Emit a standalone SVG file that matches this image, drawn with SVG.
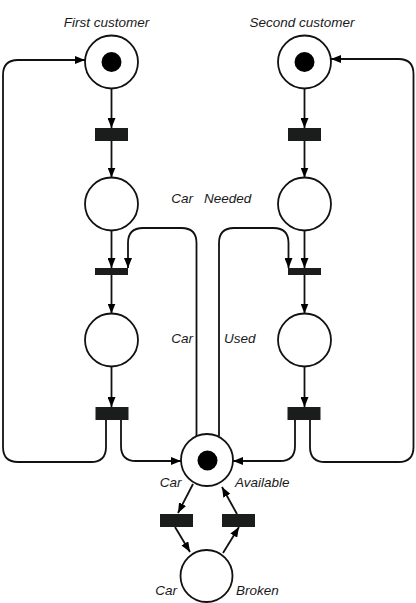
<svg xmlns="http://www.w3.org/2000/svg" width="416" height="603" viewBox="0 0 416 603">
<style>
.place{fill:#fff;stroke:#111;stroke-width:1.8}
.token{fill:#000}
.trans{fill:#1b1d1c;stroke:none}
.arc{fill:none;stroke:#111;stroke-width:1.8;marker-end:url(#ah)}
.lbl{font-family:"Liberation Sans",Arial,sans-serif;font-style:italic;font-size:13.5px;fill:#1a1a1a}
</style>
<defs>
<marker id="ah" markerUnits="userSpaceOnUse" markerWidth="10" markerHeight="8" refX="10" refY="4" orient="auto">
<path d="M0,0 L10,4 L0,8 z" fill="#000"/>
</marker>
</defs>
<rect width="416" height="603" fill="#fff"/>
<g id="connectors">
<path class="arc" d="M111.5,88.5 L111.5,128"/>
<path class="arc" d="M111.5,141 L111.5,177.5"/>
<path class="arc" d="M111.5,230.5 L111.5,268"/>
<path class="arc" d="M111.5,275 L111.5,313.5"/>
<path class="arc" d="M111.5,366.5 L111.5,407"/>
<path class="arc" d="M304.5,88.5 L304.5,128"/>
<path class="arc" d="M304.5,141 L304.5,177.5"/>
<path class="arc" d="M304.5,230.5 L304.5,268"/>
<path class="arc" d="M304.5,275 L304.5,313.5"/>
<path class="arc" d="M304.5,366.5 L304.5,407"/>
<path class="arc" d="M196.5,436 L196.5,243 Q196.5,228 181.5,228 L143,228 Q128,228 128,243 L128,268"/>
<path class="arc" d="M219,436 L219,243 Q219,228 234,228 L273.5,228 Q288.5,228 288.5,243 L288.5,268"/>
<path class="arc" d="M106,420 L106,447 Q106,462 91,462 L18,462 Q3,462 3,447 L3,75 Q3,60 18,60 L85,60"/>
<path class="arc" d="M121,420 L121,446 Q121,461 136,461 L181,461"/>
<path class="arc" d="M295,420 L295,446 Q295,461 280,461 L233,461"/>
<path class="arc" d="M310,420 L310,447 Q310,462 325,462 L398.5,462 Q413.5,462 413.5,447 L413.5,74 Q413.5,59 398.5,59 L331,59"/>
<path class="arc" d="M193,484 L178,513"/>
<path class="arc" d="M175,527 L190,552"/>
<path class="arc" d="M223,553 L239,527"/>
<path class="arc" d="M237,514 L222,487"/>
</g>
<g id="first-customer">
<circle class="place" cx="111.5" cy="62" r="26.5"/>
<circle class="token" cx="111.5" cy="62" r="10"/>
<text class="lbl" x="106.5" y="27" text-anchor="middle">First customer</text>
</g>
<g id="t1-left"><rect class="trans" x="95" y="128" width="33" height="13"/></g>
<g id="p2-left"><circle class="place" cx="111.5" cy="204" r="26.5"/></g>
<g id="t2-left"><rect class="trans" x="95" y="268" width="33" height="7"/></g>
<g id="p3-left"><circle class="place" cx="111.5" cy="340" r="26.5"/></g>
<g id="t3-left"><rect class="trans" x="95.5" y="407" width="33" height="13"/></g>
<g id="second-customer">
<circle class="place" cx="304.5" cy="62" r="26.5"/>
<circle class="token" cx="304.5" cy="62" r="10"/>
<text class="lbl" x="302" y="27" text-anchor="middle">Second customer</text>
</g>
<g id="t1-right"><rect class="trans" x="288" y="128" width="33" height="13"/></g>
<g id="p2-right"><circle class="place" cx="304.5" cy="204" r="26.5"/></g>
<g id="t2-right"><rect class="trans" x="288" y="268" width="33" height="7"/></g>
<g id="p3-right"><circle class="place" cx="304.5" cy="340" r="26.5"/></g>
<g id="t3-right"><rect class="trans" x="287.5" y="407" width="33" height="13"/></g>
<g id="car-needed">
<text class="lbl" x="193" y="203" text-anchor="end">Car</text>
<text class="lbl" x="204" y="203">Needed</text>
</g>
<g id="car-used">
<text class="lbl" x="193" y="343" text-anchor="end">Car</text>
<text class="lbl" x="224" y="343">Used</text>
</g>
<g id="car-available">
<circle class="place" cx="207" cy="460" r="26"/>
<circle class="token" cx="207.5" cy="460.5" r="10"/>
<text class="lbl" x="181.5" y="487" text-anchor="end">Car</text>
<text class="lbl" x="235" y="487">Available</text>
</g>
<g id="t-break"><rect class="trans" x="160" y="514" width="33" height="13"/></g>
<g id="t-repair"><rect class="trans" x="222" y="514" width="33" height="13"/></g>
<g id="car-broken">
<circle class="place" cx="206.5" cy="576" r="26"/>
<text class="lbl" x="177" y="595" text-anchor="end">Car</text>
<text class="lbl" x="236" y="595">Broken</text>
</g>
</svg>
